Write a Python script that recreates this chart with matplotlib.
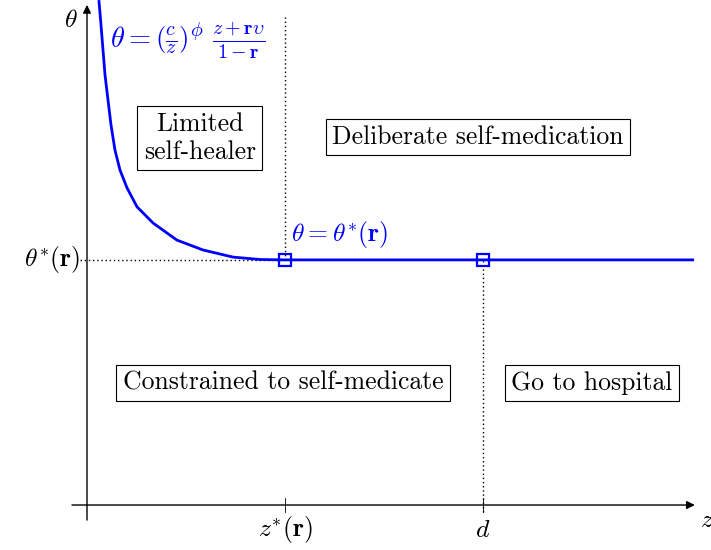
import numpy as np
import matplotlib.pyplot as plt

plt.rcParams['font.family'] = 'serif'
plt.rcParams['font.serif'] = ['cmr10']
plt.rcParams['mathtext.fontset'] = 'cm'
plt.rcParams['axes.unicode_minus'] = False

# threshold curve theta(z) down to the kink at z*
curve_z = [0.30, 0.354, 0.404, 0.455, 0.530, 0.606, 0.707, 0.833, 1.01, 1.263, 1.67,
           2.27, 2.93, 3.69, 4.37, 5.0]
curve_theta = [12.75, 12.12, 11.49, 10.86, 10.23, 9.60, 8.96, 8.46, 8.01, 7.53, 7.12,
               6.69, 6.44, 6.26, 6.20, 6.19]
z_star = 5.0
d = 10.0
theta_star = 6.19
z_end = 15.33

regions = ["Limited\nself-healer", "Deliberate self-medication",
           "Constrained to self-medicate", "Go to hospital"]
region_pos = [(2.85, 9.27), (9.87, 9.29), (4.95, 3.08), (12.75, 3.08)]

blue = '#0000ff'
fig = plt.figure(figsize=(7.11, 5.50), dpi=100)
ax = fig.add_axes([0, 0, 1, 1])
ax.set_xlim(-2.197, 15.758)
ax.set_ylim(-1.136, 12.753)
ax.axis('off')

# axes with arrow heads
arrow = dict(arrowstyle='-|>', color='black', lw=1.0, mutation_scale=12, shrinkA=0, shrinkB=0)
ax.annotate('', xy=(15.35, 0), xytext=(-0.38, 0), arrowprops=arrow)
ax.annotate('', xy=(0, 12.63), xytext=(0, -0.38), arrowprops=arrow)
for zt in [z_star, d]:
    ax.plot([zt, zt], [-0.18, 0.18], color='black', lw=0.6)

# dotted guides
ax.plot([-0.18, z_star], [theta_star, theta_star], color='black', lw=1.0, ls=(0, (1, 2)))
ax.plot([z_star, z_star], [theta_star, 12.38], color='black', lw=1.0, ls=(0, (1, 2)))
ax.plot([d, d], [-0.18, theta_star], color='black', lw=1.0, ls=(0, (1, 2)))

# boundary
ax.plot(curve_z + [z_end], curve_theta + [theta_star], color=blue, lw=2.0,
        solid_capstyle='butt', solid_joinstyle='round')
ax.plot([z_star, d], [theta_star, theta_star], ls='none', marker='s', ms=8.5,
        mfc='none', mec=blue, mew=1.6)

fs = 18.5
ax.text(0.58, 11.74, r'$\theta = \left(\frac{c}{z}\right)^{\phi}\ \frac{z+\mathbf{r}\upsilon}{1-\mathbf{r}}$',
        color=blue, fontsize=20.5, ha='left', va='center')
ax.text(5.15, 6.82, r'$\theta = \theta^{*}(\mathbf{r})$', color=blue, fontsize=fs,
        ha='left', va='center')

ax.text(-0.18, theta_star, r'$\theta^{*}(\mathbf{r})$', fontsize=fs, ha='right', va='center')
ax.text(-0.23, 12.25, r'$\theta$', fontsize=fs, ha='right', va='center')
ax.text(z_star, -0.63, r'$z^{*}(\mathbf{r})$', fontsize=fs, ha='center', va='center')
ax.text(d, -0.63, r'$d$', fontsize=fs, ha='center', va='center')
ax.text(15.48, -0.38, r'$z$', fontsize=fs, ha='left', va='center')

for label, (x, y) in zip(regions, region_pos):
    ax.text(x, y, label, fontsize=fs, ha='center', va='center', multialignment='center',
            linespacing=1.2,
            bbox=dict(boxstyle='square,pad=0.25', fc='white', ec='black', lw=0.8))

fig.savefig('out.png', dpi=100)
